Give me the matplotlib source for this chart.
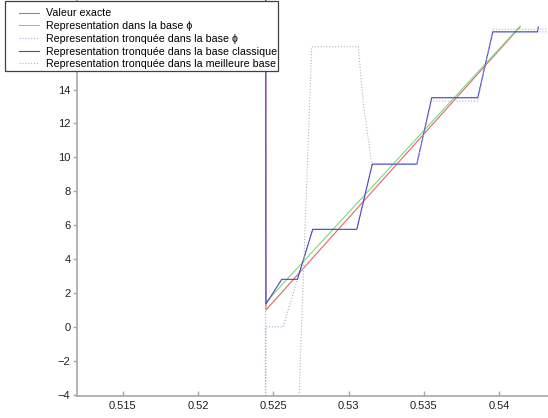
'''
Exact value vs. truncated representations in several bases.
'''
import matplotlib.pyplot as plt
from matplotlib.patches import Rectangle

plt.rcParams['font.family'] = ['Liberation Sans', 'DejaVu Sans']

# Exact value (first point lies far above the visible range)
x_exact = [0.52450, 0.52451, 0.54140]
y_exact = [30.0, 0.99, 17.70]

# Representation in the phi base
x_phi = [0.52451, 0.54141]
y_phi = [1.45, 17.75]

# Truncated representation in the phi base
x_phi_trunc = [0.52448, 0.52448, 0.52451, 0.52566, 0.52660, 0.52762, 0.53055,
               0.53158, 0.53454, 0.53553, 0.53859, 0.53959, 0.54330]
y_phi_trunc = [30.0, -10.0, 0.0, 0.0, 2.80, 5.75, 5.75,
               9.60, 9.60, 13.52, 13.52, 17.41, 17.41]

# Truncated representation in the classic base
x_classic = [0.52449, 0.52451, 0.52556, 0.52660, 0.52762, 0.53055, 0.53158,
             0.53454, 0.53553, 0.53859, 0.53959, 0.54256, 0.54262]
y_classic = [30.0, 1.34, 2.80, 2.80, 5.75, 5.75, 9.60,
             9.60, 13.52, 13.52, 17.41, 17.41, 17.70]

# Truncated representation in the best base
x_best = [0.52647, 0.52755, 0.53065, 0.53098, 0.53154, 0.53454, 0.53553,
          0.53859, 0.53959, 0.54330]
y_best = [-10.0, 16.53, 16.53, 13.19, 9.65, 9.65, 13.32,
          13.32, 17.57, 17.57]

labels = [
    "Valeur exacte",
    "Representation dans la base \u03d5",
    "Representation tronquée dans la base \u03d5",
    "Representation tronquée dans la base classique",
    "Representation tronquée dans la meilleure base",
]

x_ticks = [0.515, 0.52, 0.525, 0.53, 0.535, 0.54]
x_tick_labels = ["0.515", "0.52", "0.525", "0.53", "0.535", "0.54"]
y_ticks = [-4, -2, 0, 2, 4, 6, 8, 10, 12, 14]


def main() -> None:
    fig = plt.figure(figsize=(5.48, 4.18), dpi=100)
    ax = fig.add_axes([76.7 / 548, 22.3 / 418, 1 - 76.7 / 548, 1 - 22.3 / 418])

    dotted = (0, (1, 1.6))
    lw = 0.8
    ax.plot(x_exact, y_exact, color="#e06868", lw=lw, label=labels[0])
    ax.plot(x_phi, y_phi, color="#78dc78", lw=lw, label=labels[1])
    ax.plot(x_phi_trunc, y_phi_trunc, color="#a8a8e0", lw=lw, ls=dotted, label=labels[2])
    ax.plot(x_classic, y_classic, color="#4848c8", lw=lw, label=labels[3])
    ax.plot(x_best, y_best, color="#b4b4b4", lw=lw, ls=dotted, label=labels[4])

    ax.set_xlim(0.51193, 0.54326)
    ax.set_ylim(-4.07, 19.29)
    ax.set_xticks(x_ticks)
    ax.set_xticklabels(x_tick_labels)
    ax.set_yticks(y_ticks)

    for side in ("top", "right"):
        ax.spines[side].set_visible(False)
    for side in ("left", "bottom"):
        ax.spines[side].set_color("#a8a8a8")
        ax.spines[side].set_linewidth(1.2)
    ax.tick_params(axis="x", direction="in", length=3.5, width=1.0,
                   color="#a8a8a8", labelsize=8, labelcolor="#202020", pad=4)
    ax.tick_params(axis="y", direction="out", length=3.0, width=1.0,
                   color="#a8a8a8", labelsize=8, labelcolor="#202020", pad=1.5)

    # Legend box in the upper-left corner, over the axes
    fig.patches.append(Rectangle((5 / 548, 1 - 71 / 418), 273 / 548, 70 / 418,
                                 transform=fig.transFigure, facecolor="white",
                                 edgecolor="#404040", linewidth=0.9, zorder=5))
    leg = fig.legend(loc="upper left", bbox_to_anchor=(19 / 548, 1 - 8.5 / 418),
                     frameon=False, fontsize=7.7, handlelength=1.9,
                     handletextpad=0.6, labelspacing=0.25, borderpad=0.0,
                     borderaxespad=0.0)
    leg.set_zorder(6)

    fig.savefig("out.png", dpi=100)


if __name__ == "__main__":
    main()
